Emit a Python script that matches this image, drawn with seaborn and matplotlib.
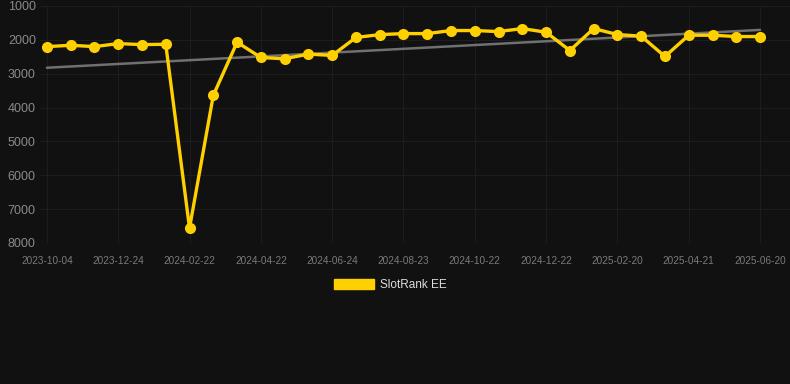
import numpy as np
import pandas as pd
import matplotlib
matplotlib.use("Agg")
import matplotlib.pyplot as plt
from matplotlib.patches import Patch
import seaborn as sns

# Values (rank, lower is better)
ranks = [2200, 2160, 2200, 2110, 2140, 2130, 7560, 3640, 2070, 2520,
         2560, 2420, 2460, 1930, 1845, 1815, 1815, 1725, 1725, 1755,
         1667, 1775, 2315, 1667, 1843, 1892, 2490, 1863, 1863, 1902,
         1902]
tick_labels = ["2023-10-04", "2023-12-24", "2024-02-22", "2024-04-22",
               "2024-06-24", "2024-08-23", "2024-10-22", "2024-12-22",
               "2025-02-20", "2025-04-21", "2025-06-20"]
trend_ends = [2824, 1706]
series_name = "SlotRank EE"

df = pd.DataFrame({"pos": np.arange(len(ranks)), "rank": ranks})

bg = "#111111"
sns.set_theme(style="dark")
plt.rcParams["font.family"] = ["Liberation Sans", "DejaVu Sans"]

fig = plt.figure(figsize=(7.9, 3.84), dpi=100, facecolor=bg)
ax = fig.add_axes([40 / 790, 141 / 384, 750 / 790, 237 / 384])
ax.set_facecolor(bg)

# trend line
ax.plot([df["pos"].iloc[0], df["pos"].iloc[-1]], trend_ends,
        color="#707070", lw=1.8, zorder=2)

sns.lineplot(data=df, x="pos", y="rank", ax=ax, color="#FFD000", lw=2.4,
             marker="o", markersize=8, markeredgewidth=0, zorder=3)

ax.set_ylim(8000, 1000)
ax.set_xlim(-0.29, 31.26)
ax.set_yticks(range(1000, 9000, 1000))
ax.set_xticks(df["pos"][::3])
ax.set_xticklabels(tick_labels)
ax.tick_params(axis="y", colors="#8a8a8a", labelsize=9, length=0, pad=3)
ax.tick_params(axis="x", colors="#7a7a7a", labelsize=7.2, length=0, pad=9)
ax.grid(True, color="#1d1d1d", lw=0.8)
ax.set_xlabel("")
ax.set_ylabel("")
for s in ax.spines.values():
    s.set_visible(False)

fig.legend(handles=[Patch(color="#FFD000", label=series_name)],
           loc="center", bbox_to_anchor=(390 / 790, 1 - 285 / 384),
           frameon=False, fontsize=8.5, labelcolor="#dddddd",
           handlelength=3.4, handleheight=1.0, handletextpad=0.5)

fig.savefig("out.png", dpi=100, facecolor=bg)
